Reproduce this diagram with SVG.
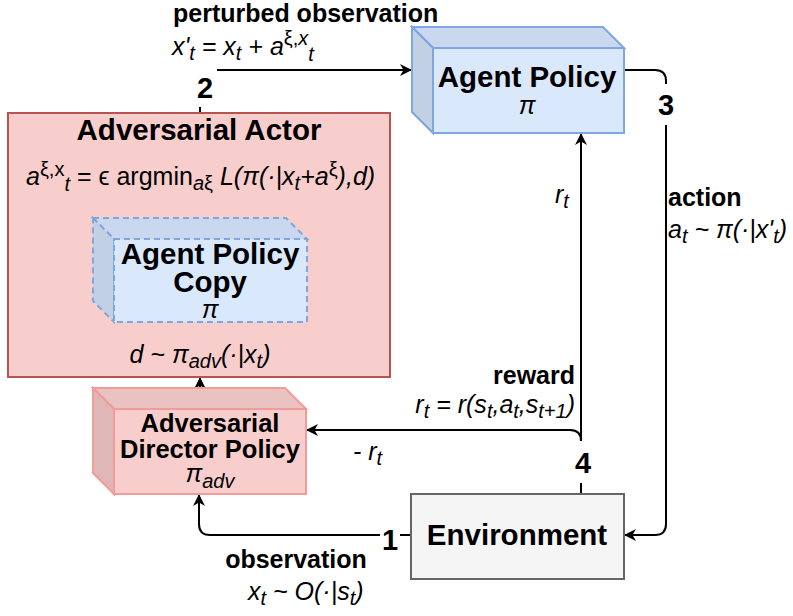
<svg xmlns="http://www.w3.org/2000/svg" width="793" height="616" viewBox="0 0 793 616">
<defs>
<marker id="arr" markerUnits="userSpaceOnUse" markerWidth="14" markerHeight="14" viewBox="0 0 14 14" refX="13" refY="7" orient="auto">
<path d="M1,1 L13,7 L1,13 L4.5,7 Z" fill="#000"/>
</marker>
<style>
.t{font-family:"Liberation Sans",Arial,sans-serif;fill:#000}
.b{font-weight:bold}
.i{font-style:italic}
.n{font-style:normal}
.lbl{font-size:25px}
.ttl{font-size:29.5px}
.num{font-size:29px;font-weight:bold}
.m{font-size:25px;font-style:italic}
.s{font-size:20px}
.e{fill:none;stroke:#000;stroke-width:2}
</style>
</defs>
<rect width="793" height="616" fill="#fff"/>

<g id="connectors">
<path class="e" d="M217,70 L412,70" marker-end="url(#arr)"/>
<path class="e" d="M200,107 L200,113"/>
<path class="e" d="M624,70 L655,70 Q666,70 666,81 L666,84"/>
<path class="e" d="M666,125 L666,524 Q666,535 655,535 L624,535" marker-end="url(#arr)"/>
<path class="e" d="M581,483 L581,494"/>
<path class="e" d="M581,441 L581,133" marker-end="url(#arr)"/>
<path class="e" d="M581,441 Q581,430 570,430 L306,430" marker-end="url(#arr)"/>
<path class="e" d="M400,535 L411,535"/>
<path class="e" d="M380,535 L210,535 Q199,535 199,524 L199,494" marker-end="url(#arr)"/>
<path class="e" d="M200,388 L200,377" marker-end="url(#arr)"/>
<path class="e" d="M200,345 L200,322" marker-end="url(#arr)"/>
<path class="e" d="M200,212 L200,197" marker-end="url(#arr)"/>
</g>

<g id="actor">
<rect x="8" y="113" width="382" height="264" fill="#f8cecc" stroke="#b85450" stroke-width="2"/>
<text class="t b ttl" x="199" y="140" text-anchor="middle">Adversarial Actor</text>
<text class="t" x="26" y="185" font-size="25"><tspan class="i">a</tspan><tspan font-size="20" dy="-9">ξ,x</tspan><tspan class="i" font-size="20" dy="15">t</tspan><tspan dy="-6"> = ϵ argmin</tspan><tspan class="i" font-size="20" dy="5">a</tspan><tspan font-size="20">ξ</tspan><tspan class="i" dy="-5"> L(π(·|x</tspan><tspan class="i" font-size="20" dy="5">t</tspan><tspan class="i" dy="-5">+a</tspan><tspan font-size="20" dy="-9">ξ</tspan><tspan class="i" dy="9">),d)</tspan></text>
<text class="t m" x="200" y="363" text-anchor="middle" font-size="24">d ~ π<tspan class="s" dy="5">adv</tspan><tspan dy="-5">(·|x</tspan><tspan class="s" dy="5">t</tspan><tspan dy="-5">)</tspan></text>
</g>

<g id="agent-policy-copy">
<polygon points="93,218 286,218 307,239 114,239" fill="#c9d8ee" stroke="#7ea6e0" stroke-width="2" stroke-dasharray="6,4"/>
<polygon points="93,218 114,239 114,322 93,301" fill="#c2d0e4" stroke="#7ea6e0" stroke-width="2" stroke-dasharray="6,4"/>
<rect x="114" y="239" width="193" height="83" fill="#dae8fc" stroke="#7ea6e0" stroke-width="2" stroke-dasharray="6,4"/>
<text class="t b ttl" x="210" y="264" text-anchor="middle">Agent Policy</text>
<text class="t b ttl" x="210" y="292" text-anchor="middle">Copy</text>
<text class="t m" x="210" y="318" text-anchor="middle" font-size="25">π</text>
</g>

<g id="director-policy">
<polygon points="93,388 285,388 306,409 114,409" fill="#eac2c1" stroke="#f19c99" stroke-width="2"/>
<polygon points="93,388 114,409 114,494 93,473" fill="#dfb7b6" stroke="#f19c99" stroke-width="2"/>
<rect x="114" y="409" width="192" height="85" fill="#f8cecc" stroke="#f19c99" stroke-width="2"/>
<text class="t b" x="210" y="432" text-anchor="middle" font-size="25.5">Adversarial</text>
<text class="t b" x="210" y="458" text-anchor="middle" font-size="25.5">Director Policy</text>
<text class="t m" x="210" y="482" text-anchor="middle" font-size="25">π<tspan class="s" dy="6">adv</tspan></text>
</g>

<g id="agent-policy">
<polygon points="412,27 603,27 624,48 433,48" fill="#c9d8ee" stroke="#7ea6e0" stroke-width="2"/>
<polygon points="412,27 433,48 433,133 412,112" fill="#c2d0e4" stroke="#7ea6e0" stroke-width="2"/>
<rect x="433" y="48" width="191" height="85" fill="#dae8fc" stroke="#7ea6e0" stroke-width="2"/>
<text class="t b ttl" x="527" y="87" text-anchor="middle">Agent Policy</text>
<text class="t m" x="527" y="114" text-anchor="middle" font-size="25">π</text>
</g>

<g id="environment">
<rect x="411" y="494" width="213" height="85" fill="#f5f5f5" stroke="#666666" stroke-width="2"/>
<text class="t b ttl" x="517" y="545" text-anchor="middle">Environment</text>
</g>

<g id="labels">
<text class="t b lbl" x="173" y="22">perturbed observation</text>
<text class="t m" x="172" y="55">x'<tspan class="s" dy="5">t</tspan><tspan dy="-5"> = x</tspan><tspan class="s" dy="5">t</tspan><tspan dy="-5"> + a</tspan><tspan class="n s" dy="-10">ξ,</tspan><tspan class="s">x</tspan><tspan class="s" dy="16">t</tspan></text>
<text class="t num" x="205" y="98" text-anchor="middle">2</text>
<text class="t num" x="666" y="115" text-anchor="middle">3</text>
<text class="t num" x="583" y="473" text-anchor="middle">4</text>
<text class="t num" x="390" y="550" text-anchor="middle">1</text>
<text class="t m" x="555" y="203">r<tspan class="s" dy="5">t</tspan></text>
<text class="t b lbl" x="668" y="206">action</text>
<text class="t m" x="668" y="238">a<tspan class="s" dy="5">t</tspan><tspan dy="-5"> ~ π(·|x'</tspan><tspan class="s" dy="5">t</tspan><tspan dy="-5">)</tspan></text>
<text class="t b lbl" x="575" y="384" text-anchor="end">reward</text>
<text class="t m" x="575" y="413" text-anchor="end">r<tspan class="s" dy="5">t</tspan><tspan dy="-5"> = r(s</tspan><tspan class="s" dy="5">t</tspan><tspan dy="-5">,a</tspan><tspan class="s" dy="5">t</tspan><tspan dy="-5">,s</tspan><tspan class="s" dy="5">t+1</tspan><tspan dy="-5">)</tspan></text>
<text class="t m" x="353" y="460">- r<tspan class="s" dy="5">t</tspan></text>
<text class="t b lbl" x="296" y="568" text-anchor="middle">observation</text>
<text class="t m" x="248" y="600">x<tspan class="s" dy="5">t</tspan><tspan dy="-5"> ~ O(·|s</tspan><tspan class="s" dy="5">t</tspan><tspan dy="-5">)</tspan></text>
</g>
</svg>
